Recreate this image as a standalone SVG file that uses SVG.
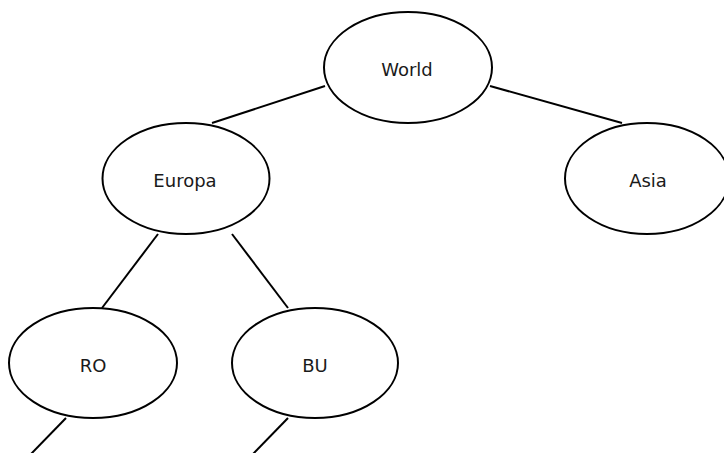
<svg xmlns="http://www.w3.org/2000/svg" width="724" height="453" viewBox="0 0 724 453">
  <style>
    .node ellipse { fill: #ffffff; stroke: #000000; stroke-width: 2; }
    .node text { font-family: "DejaVu Sans", Verdana, sans-serif; font-size: 18px; fill: #1a1a1a; text-anchor: middle; }
    .edges line { stroke: #000000; stroke-width: 2; }
  </style>
  <rect width="724" height="453" fill="#ffffff"/>
  <g class="edges">
    <line x1="325" y1="86" x2="212" y2="123"/>
    <line x1="490" y1="86" x2="622" y2="123"/>
    <line x1="158" y1="234" x2="102" y2="308"/>
    <line x1="232" y1="234" x2="288" y2="308"/>
    <line x1="66" y1="418" x2="31" y2="454"/>
    <line x1="288" y1="418" x2="253" y2="454"/>
  </g>
  <g id="world" class="node">
    <ellipse cx="408" cy="67.5" rx="84" ry="55.5"/>
    <text x="407" y="76">World</text>
  </g>
  <g id="europa" class="node">
    <ellipse cx="186" cy="178.5" rx="83.5" ry="55.5"/>
    <text x="185" y="187">Europa</text>
  </g>
  <g id="asia" class="node">
    <ellipse cx="647" cy="178.5" rx="82" ry="55.5"/>
    <text x="648" y="187">Asia</text>
  </g>
  <g id="ro" class="node">
    <ellipse cx="93" cy="363" rx="84" ry="55"/>
    <text x="93" y="372">RO</text>
  </g>
  <g id="bu" class="node">
    <ellipse cx="315" cy="363" rx="83" ry="55"/>
    <text x="315" y="372">BU</text>
  </g>
</svg>
